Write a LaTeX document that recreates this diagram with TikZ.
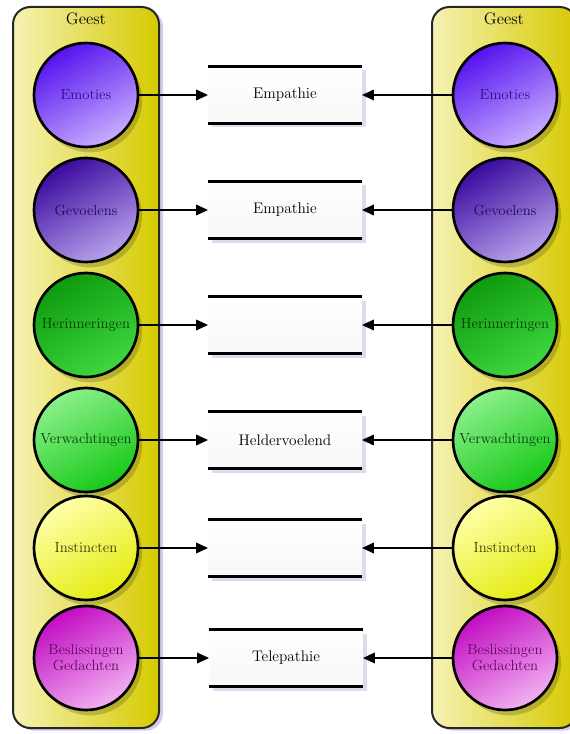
\documentclass[tikz,border=0pt]{standalone}
\usepackage{amsmath}
\usetikzlibrary{arrows.meta,shadows}

\definecolor{geelA}{HTML}{F6F2B4}
\definecolor{geelM}{HTML}{E6DC3A}
\definecolor{geelB}{HTML}{D6CA00}
\definecolor{emoA}{HTML}{5512EE}
\definecolor{emoB}{HTML}{C8AEFF}
\definecolor{gevA}{HTML}{3A0A9E}
\definecolor{gevB}{HTML}{B8A2EC}
\definecolor{herA}{HTML}{0E9A0E}
\definecolor{herB}{HTML}{3ED83E}
\definecolor{verA}{HTML}{8AF08A}
\definecolor{verB}{HTML}{18C818}
\definecolor{insA}{HTML}{FFFFA8}
\definecolor{insB}{HTML}{E4EC10}
\definecolor{besA}{HTML}{C20CC2}
\definecolor{besB}{HTML}{F2B2F2}

\begin{document}
\begin{tikzpicture}[x=0.75pt,y=-0.75pt,
	kolom/.style={rounded corners=13pt, draw=black!85, line width=1.5pt,
		left color=geelA, middle color=geelM, right color=geelB,
		drop shadow={fill=blue!40!gray!45, opacity=0.6, shadow xshift=3pt, shadow yshift=-2pt}},
	bol/.style={circle, draw=black, line width=2pt, minimum size=78pt, inner sep=0pt,
		align=center, font=\fontsize{11}{12}\selectfont,
		drop shadow={fill=black, opacity=0.18, shadow xshift=3pt, shadow yshift=-4pt}},
	kleur/.style n args={3}{top color=#1, bottom color=#2, shading angle=30, text=#3},
	opslag/.style={minimum width=115pt, minimum height=42.75pt, inner sep=0pt,
		top color=white, bottom color=gray!6, font=\fontsize{11.5}{13}\selectfont,
		drop shadow={fill=blue!30!gray!35, opacity=0.6, shadow xshift=3pt, shadow yshift=-3pt}},
	streep/.style={line width=2.3pt},
	pijl/.style={line width=1.1pt, -{Triangle[length=9pt, width=8pt]}},
	titel/.style={font=\fontsize{12.5}{14}\selectfont}
	]
	\useasboundingbox (0,0) rectangle (569,734);

	% kolommen
	\draw[kolom] (13,7) rectangle (159,728);
	\draw[kolom] (432,7) rectangle (577,728);
	\node[titel] (geestL) at (86,19) {Geest};
	\node[titel] (geestR) at (504,19) {Geest};

	% links
	\node[bol, kleur={emoA}{emoB}{emoA!55!black}] (l1) at (86,95) {Emoties};
	\node[bol, kleur={gevA}{gevB}{gevA!60!black}] (l2) at (86,210) {Gevoelens};
	\node[bol, kleur={herA}{herB}{herA!40!black}] (l3) at (86,325) {Herinneringen};
	\node[bol, kleur={verA}{verB}{verB!30!black}] (l4) at (86,440) {Verwachtingen};
	\node[bol, kleur={insA}{insB}{insB!25!black}] (l5) at (86,548) {Instincten};
	\node[bol, kleur={besA}{besB}{besA!50!black}] (l6) at (86,658) {Beslissingen\\Gedachten};

	% rechts
	\node[bol, kleur={emoA}{emoB}{emoA!55!black}] (r1) at (505,95) {Emoties};
	\node[bol, kleur={gevA}{gevB}{gevA!60!black}] (r2) at (505,210) {Gevoelens};
	\node[bol, kleur={herA}{herB}{herA!40!black}] (r3) at (505,325) {Herinneringen};
	\node[bol, kleur={verA}{verB}{verB!30!black}] (r4) at (505,440) {Verwachtingen};
	\node[bol, kleur={insA}{insB}{insB!25!black}] (r5) at (505,548) {Instincten};
	\node[bol, kleur={besA}{besB}{besA!50!black}] (r6) at (505,658) {Beslissingen\\Gedachten};

	% midden
	\node[opslag] (b1) at (285,95) {Empathie};
	\node[opslag] (b2) at (285,210) {Empathie};
	\node[opslag] (b3) at (285,325) {};
	\node[opslag] (b4) at (285,440) {Heldervoelend};
	\node[opslag] (b5) at (285,548) {};
	\node[opslag] (b6) at (286,658) {Telepathie};

	\draw[streep] (b1.north west) -- (b1.north east) (b1.south west) -- (b1.south east);
	\draw[streep] (b2.north west) -- (b2.north east) (b2.south west) -- (b2.south east);
	\draw[streep] (b3.north west) -- (b3.north east) (b3.south west) -- (b3.south east);
	\draw[streep] (b4.north west) -- (b4.north east) (b4.south west) -- (b4.south east);
	\draw[streep] (b5.north west) -- (b5.north east) (b5.south west) -- (b5.south east);
	\draw[streep] (b6.north west) -- (b6.north east) (b6.south west) -- (b6.south east);

	% pijlen
	\draw[pijl] (l1) -- (b1);
	\draw[pijl] (l2) -- (b2);
	\draw[pijl] (l3) -- (b3);
	\draw[pijl] (l4) -- (b4);
	\draw[pijl] (l5) -- (b5);
	\draw[pijl] (l6) -- (b6);
	\draw[pijl] (r1) -- (b1);
	\draw[pijl] (r2) -- (b2);
	\draw[pijl] (r3) -- (b3);
	\draw[pijl] (r4) -- (b4);
	\draw[pijl] (r5) -- (b5);
	\draw[pijl] (r6) -- (b6);
\end{tikzpicture}
\end{document}
